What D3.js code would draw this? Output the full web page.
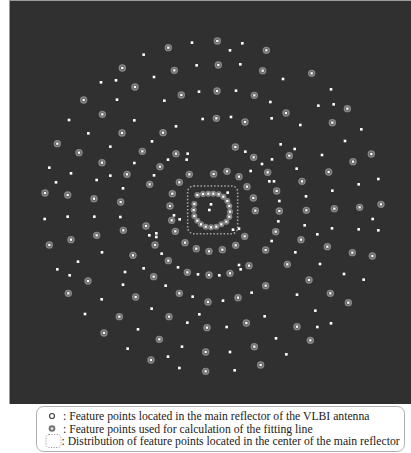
<!DOCTYPE html>
<html>
<head>
<meta charset="utf-8">
<script src="https://cdn.jsdelivr.net/npm/d3@7"></script>
<style>
  html, body { margin: 0; padding: 0; background: #ffffff; }
  svg { display: block; }
</style>
</head>
<body>
<div id="chart"></div>
<script>
// Feature point positions, in source image pixels (frame 1233 x 1140).
// Points used for calculation of the fitting line (ringed markers).
const fittingPoints = [
  [652,123],[505,143],[799,151],
  [367,204],[655,195],[523,211],[788,212],[935,220],
  [405,261],[544,285],[651,273],[763,286],
  [251,300],[1042,326],
  [307,343],[858,339],[649,355],[735,366],[997,368],
  [366,399],[489,398],
  [172,431],[706,441],
  [427,454],[237,458],[528,461],[761,472],[868,467],[1114,462],
  [306,488],[1059,485],
  [480,500],
  [381,523],[568,523],[641,522],[681,514],[717,530],[803,517],[986,516],
  [449,553],[538,547],[906,544],
  [135,579],[203,585],[282,596],[362,606],[517,581],[741,560],[830,573],
  [510,618],[760,594],[919,631],[1003,626],[1079,622],[1143,613],
  [766,632],[838,633],
  [515,661],
  [370,691],[438,678],[290,706],[526,694],[827,695],
  [148,735],[213,719],[465,735],[555,728],[734,709],[903,719],
  [589,746],[627,754],[667,749],[707,736],[797,750],[982,740],[1057,758],[1117,768],
  [399,766],
  [505,782],[747,797],[862,793],
  [562,817],[627,825],[690,820],[461,830],
  [264,843],[797,857],[927,840],
  [205,880],[407,891],[538,880],[624,906],[714,893],[991,880],[1045,908],
  [358,950],[507,950],[621,983],[739,969],[891,980],
  [312,999],[478,1018],[617,1056],[763,1040],[931,1021],
  [453,1080],
  [617,1114],[782,1095]
];

// Remaining feature points located in the main reflector.
const featurePoints = [
  [576,128],[727,130],[690,151],[431,164],
  [590,196],[721,193],
  [462,231],[303,247],[348,241],[849,237],
  [597,275],[708,272],[993,268],
  [351,299],[493,302],[811,306],[955,317],[1001,313],
  [608,357],[693,351],[815,355],
  [207,360],[403,361],[528,379],[901,375],[1084,388],
  [265,400],
  [456,424],[1035,423],
  [331,440],[842,433],[884,447],
  [736,455],[563,461],[966,465],[816,478],
  [403,489],[504,479],[560,479],[786,492],
  [148,503],[890,506],
  [213,520],[290,540],[331,527],[462,526],[752,513],
  [168,547],[808,544],[822,544],[1076,553],[1135,537],
  [369,565],[997,572],[918,589],
  [683,578],
  [838,603],
  [134,657],[203,650],[283,650],[361,651],[522,646],[539,658],[835,664],[1118,657],
  [448,706],[469,700],[469,711],[914,676],[996,685],[1076,688],[1135,691],[952,703],[699,689],[717,686],
  [815,723],
  [886,757],[306,757],
  [234,785],[485,761],[717,795],[722,808],[960,792],
  [172,808],[209,826],[431,805],[375,816],[534,802],[594,823],[658,826],[1032,822],[1091,839],
  [369,854],[497,857],
  [578,890],[669,902],[755,878],[891,884],
  [305,898],[455,926],[946,932],
  [255,942],[562,968],[598,943],[680,981],[794,949],[952,981],[993,970],
  [414,988],[546,1040],[690,1056],[828,1015],
  [383,1046],[504,1070],[859,1063],
  [538,1104],[704,1111]
];

// Fitting points on the innermost ring around the reflector centre.
const centerRing = [
  [592,585],[609,582],[625,581],[640,581],[656,583],[670,590],[682,603],[688,618],
  [690,635],[688,650],[679,665],[664,673],[649,680],[633,682],[617,680],[603,673],
  [592,662],[583,648],[581,630],[583,612]
];

// Feature points at the very centre of the main reflector.
const centerPoints = [[633,613],[628,630]];

// Extent of the central distribution (min corner, max corner).
const centerRegion = [[563,558],[713,701]];

const legendItems = [
  ": Feature points located in the main reflector of the VLBI antenna",
  ": Feature points used for calculation of the fitting line",
  ": Distribution of feature points located in the center of the main reflector"
];

const W = 411, H = 453;
const svg = d3.select("#chart").append("svg")
  .attr("width", W).attr("height", H);

const defs = svg.append("defs");
defs.append("filter").attr("id", "soft")
  .attr("x", "-50%").attr("y", "-50%").attr("width", "200%").attr("height", "200%")
  .append("feGaussianBlur").attr("stdDeviation", 0.35);

// Image panel
const panel = { x: 10, y: 1, w: 401, h: 403 };
svg.append("rect")
  .attr("x", panel.x).attr("y", panel.y)
  .attr("width", panel.w).attr("height", panel.h)
  .attr("fill", "#303030");
svg.append("line")
  .attr("x1", panel.x).attr("x2", W).attr("y1", panel.y - 0.5).attr("y2", panel.y - 0.5)
  .attr("stroke", "#9a9a9a").attr("stroke-width", 1);
svg.append("line")
  .attr("x1", panel.x - 0.5).attr("x2", panel.x - 0.5).attr("y1", 0).attr("y2", panel.y + panel.h)
  .attr("stroke", "#9a9a9a").attr("stroke-width", 1);

// Source image coordinates -> page
const x = d3.scaleLinear().domain([0, 1233]).range([0, 411]);
const y = d3.scaleLinear().domain([0, 1140]).range([0, 380]);

const marks = svg.append("g").attr("filter", "url(#soft)");

// Dotted box around the central distribution
const bx0 = x(centerRegion[0][0]), by0 = y(centerRegion[0][1]);
const bx1 = x(centerRegion[1][0]), by1 = y(centerRegion[1][1]);
marks.append("rect")
  .attr("x", bx0).attr("y", by0)
  .attr("width", bx1 - bx0).attr("height", by1 - by0)
  .attr("rx", 6).attr("ry", 6)
  .attr("fill", "none")
  .attr("stroke", "#a8a8a8")
  .attr("stroke-width", 1.5)
  .attr("stroke-dasharray", "1.5,1.9");

function ringed(sel, rOuter, rInner) {
  const g = sel.append("g").attr("transform", d => `translate(${x(d[0])},${y(d[1])})`);
  g.append("circle").attr("r", rOuter).attr("fill", "#868686");
  g.append("circle").attr("r", rInner).attr("fill", "#565656");
  g.append("rect").attr("x", -1.15).attr("y", -1.15)
    .attr("width", 2.3).attr("height", 2.3).attr("fill", "#ffffff");
}

marks.append("g").selectAll("g").data(centerRing).join(s => ringed(s, 3.0, 1.8));
marks.append("g").selectAll("g").data(fittingPoints).join(s => ringed(s, 3.7, 2.2));

marks.append("g").selectAll("rect")
  .data(featurePoints.concat(centerPoints))
  .join("rect")
  .attr("x", d => x(d[0]) - 1.3)
  .attr("y", d => y(d[1]) - 1.3)
  .attr("width", 2.6).attr("height", 2.6)
  .attr("fill", "#ffffff");

// Legend
const legend = svg.append("g");
legend.append("rect")
  .attr("x", 36.5).attr("y", 406.5).attr("width", 368).attr("height", 45)
  .attr("rx", 7).attr("ry", 7)
  .attr("fill", "#ffffff").attr("stroke", "#b0b0b0").attr("stroke-width", 1);

const rowY = [416, 428.5, 441];
legend.append("circle").attr("cx", 52).attr("cy", rowY[0])
  .attr("r", 2.5).attr("fill", "none").attr("stroke", "#444").attr("stroke-width", 1.2);
legend.append("circle").attr("cx", 52).attr("cy", rowY[1])
  .attr("r", 3.3).attr("fill", "#6f6f6f");
legend.append("circle").attr("cx", 52).attr("cy", rowY[1])
  .attr("r", 1.5).attr("fill", "#d4d4d4");
legend.append("rect").attr("x", 46).attr("y", rowY[2] - 6.5).attr("width", 15).attr("height", 13)
  .attr("rx", 3).attr("fill", "none").attr("stroke", "#888")
  .attr("stroke-width", 1).attr("stroke-dasharray", "1,1.6");

legend.selectAll("text").data(legendItems).join("text")
  .attr("x", (d, i) => i === 2 ? 61.5 : 63)
  .attr("y", (d, i) => rowY[i] + 4)
  .attr("font-family", "'Liberation Serif', 'Times New Roman', serif")
  .attr("font-size", 11.7)
  .attr("fill", "#222")
  .text(d => d);
</script>
</body>
</html>
